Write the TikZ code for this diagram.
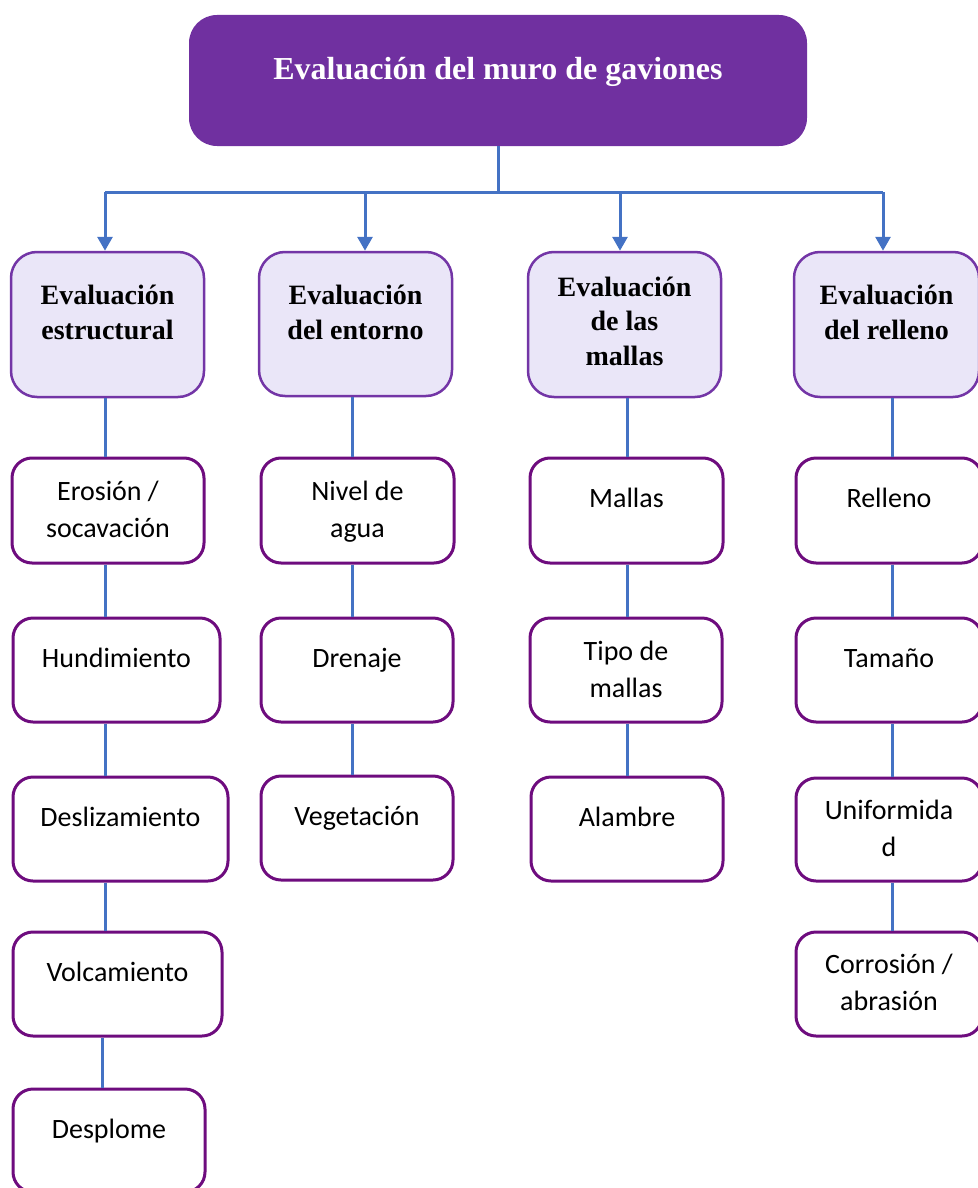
\documentclass[tikz,border=0pt]{standalone}
\usepackage{fontspec}
\setmainfont{Liberation Serif}
\newfontfamily\calib{Carlito}
\usetikzlibrary{arrows.meta,calc}
\definecolor{titlepurple}{HTML}{7030A0}
\definecolor{catfill}{HTML}{EAE6F8}
\definecolor{catborder}{HTML}{7335A6}
\definecolor{itemborder}{HTML}{6E0C7E}
\definecolor{linkblue}{HTML}{4472C4}
\newcommand\ttlfont{\fontsize{32}{38}\selectfont\bfseries}
\newcommand\hdfont{\fontsize{28}{34.5}\selectfont\bfseries}
\newcommand\itfont{\calib\fontsize{28}{36.5}\selectfont}
\tikzset{
  titlebox/.style={fill=titlepurple, rounded corners=28pt, inner sep=0pt},
  catbox/.style={draw=catborder, line width=2.5pt, fill=catfill, rounded corners=26pt, inner sep=0pt},
  itembox/.style={draw=itemborder, line width=3pt, fill=white, rounded corners=20pt, inner sep=0pt},
  ttltext/.style={font=\ttlfont, text=white, anchor=base, inner sep=0pt},
  hdtext/.style={font=\hdfont, align=center, anchor=base, inner sep=0pt},
  ittext/.style={font=\itfont, align=center, anchor=base, inner sep=0pt},
  link/.style={draw=linkblue, line width=3pt},
  arr/.style={link, -{Triangle[length=14pt,width=15pt]}},
}
\begin{document}
\begin{tikzpicture}[x=1pt,y=-1pt]
\useasboundingbox (0,0) rectangle (977,1188);
% title
\node[titlebox, minimum width=618pt, minimum height=131pt] (title) at (498,80.5) {};
\node[ttltext] (ttl) at ($(title.north)+(0,65)$) {Evaluación del muro de gaviones};
% categories
\node[catbox, minimum width=193pt, minimum height=145pt] (cat1) at (107.5,324.5) {};
\node[catbox, minimum width=193pt, minimum height=144pt] (cat2) at (355.5,324) {};
\node[catbox, minimum width=193pt, minimum height=145pt] (cat3) at (624.5,324.5) {};
\node[catbox, minimum width=185pt, minimum height=145pt] (cat4) at (886.5,324.5) {};
\node[hdtext] (h1) at ($(cat1.north)+(0,88.5)$) {Evaluación\\estructural};
\node[hdtext] (h2) at ($(cat2.north)+(0,88.5)$) {Evaluación\\del entorno};
\node[hdtext] (h3) at ($(cat3.north)+(0,114.5)$) {Evaluación\\de las\\mallas};
\node[hdtext] (h4) at ($(cat4.north)+(0,88.5)$) {Evaluación\\del relleno};
% column 1
\node[itembox, minimum width=192pt, minimum height=105pt] (e1) at (108,510.5) {};
\node[itembox, minimum width=207pt, minimum height=104pt] (e2) at (116.5,670) {};
\node[itembox, minimum width=215pt, minimum height=104pt] (e3) at (120.5,829) {};
\node[itembox, minimum width=209pt, minimum height=104pt] (e4) at (117.5,984) {};
\node[itembox, minimum width=192pt, minimum height=103pt] (e5) at (109,1140.5) {};
\node[ittext] (te1) at ($(e1.north)+(0,80.5)$) {Erosión /\\socavación};
\node[ittext] (te2) at ($(e2.north)+(0,51)$) {Hundimiento};
\node[ittext] (te3) at ($(e3.north)+(0,51)$) {Deslizamiento};
\node[ittext] (te4) at ($(e4.north)+(0,51)$) {Volcamiento};
\node[ittext] (te5) at ($(e5.north)+(0,51)$) {Desplome};
% column 2
\node[itembox, minimum width=193pt, minimum height=105pt] (n1) at (357.5,510.5) {};
\node[itembox, minimum width=192pt, minimum height=104pt] (n2) at (357,670) {};
\node[itembox, minimum width=192pt, minimum height=104pt] (n3) at (357,828) {};
\node[ittext] (tn1) at ($(n1.north)+(0,80.5)$) {Nivel de\\agua};
\node[ittext] (tn2) at ($(n2.north)+(0,51)$) {Drenaje};
\node[ittext] (tn3) at ($(n3.north)+(0,51)$) {Vegetación};
% column 3
\node[itembox, minimum width=193pt, minimum height=105pt] (m1) at (626.5,510.5) {};
\node[itembox, minimum width=192pt, minimum height=104pt] (m2) at (626,670) {};
\node[itembox, minimum width=192pt, minimum height=104pt] (m3) at (627,829) {};
\node[ittext] (tm1) at ($(m1.north)+(0,51)$) {Mallas};
\node[ittext] (tm2) at ($(m2.north)+(0,80.5)$) {Tipo de\\mallas};
\node[ittext] (tm3) at ($(m3.north)+(0,51)$) {Alambre};
% column 4
\node[itembox, minimum width=186pt, minimum height=105pt] (r1) at (889,510.5) {};
\node[itembox, minimum width=186pt, minimum height=104pt] (r2) at (889,670) {};
\node[itembox, minimum width=186pt, minimum height=103pt] (r3) at (889,829.5) {};
\node[itembox, minimum width=186pt, minimum height=104pt] (r4) at (889,984) {};
\node[ittext] (tr1) at ($(r1.north)+(0,51)$) {Relleno};
\node[ittext] (tr2) at ($(r2.north)+(0,51)$) {Tamaño};
\node[ittext] (tr3) at ($(r3.north)+(0,79.5)$) {Uniformida\\d};
\node[ittext] (tr4) at ($(r4.north)+(0,79.5)$) {Corrosión /\\abrasión};
% junctions
\coordinate (j1) at (105,192);
\coordinate (j2) at (365,192);
\coordinate (j3) at (620,192);
\coordinate (j4) at (883,192);
\coordinate (x1) at (105,0);
\coordinate (x2) at (352,0);
\coordinate (x3) at (627,0);
\coordinate (x4) at (892,0);
% connectors from title
\draw[link] (title.south) -- (title.south |- j1);
\draw[link] (j1) -- (j4);
\draw[arr] (j1) -- (j1 |- cat1.north);
\draw[arr] (j2) -- (j2 |- cat2.north);
\draw[arr] (j3) -- (j3 |- cat3.north);
\draw[arr] (j4) -- (j4 |- cat4.north);
% column links
\draw[link] (x1 |- cat1.south) -- (x1 |- e1.north);
\draw[link] (x1 |- e1.south) -- (x1 |- e2.north);
\draw[link] (x1 |- e2.south) -- (x1 |- e3.north);
\draw[link] (x1 |- e3.south) -- (x1 |- e4.north);
\draw[link] ([xshift=-3pt]x1 |- e4.south) -- ([xshift=-3pt]x1 |- e5.north);
\draw[link] (x2 |- cat2.south) -- (x2 |- n1.north);
\draw[link] (x2 |- n1.south) -- (x2 |- n2.north);
\draw[link] (x2 |- n2.south) -- (x2 |- n3.north);
\draw[link] (x3 |- cat3.south) -- (x3 |- m1.north);
\draw[link] (x3 |- m1.south) -- (x3 |- m2.north);
\draw[link] (x3 |- m2.south) -- (x3 |- m3.north);
\draw[link] (x4 |- cat4.south) -- (x4 |- r1.north);
\draw[link] (x4 |- r1.south) -- (x4 |- r2.north);
\draw[link] (x4 |- r2.south) -- (x4 |- r3.north);
\draw[link] (x4 |- r3.south) -- (x4 |- r4.north);
\end{tikzpicture}
\end{document}
